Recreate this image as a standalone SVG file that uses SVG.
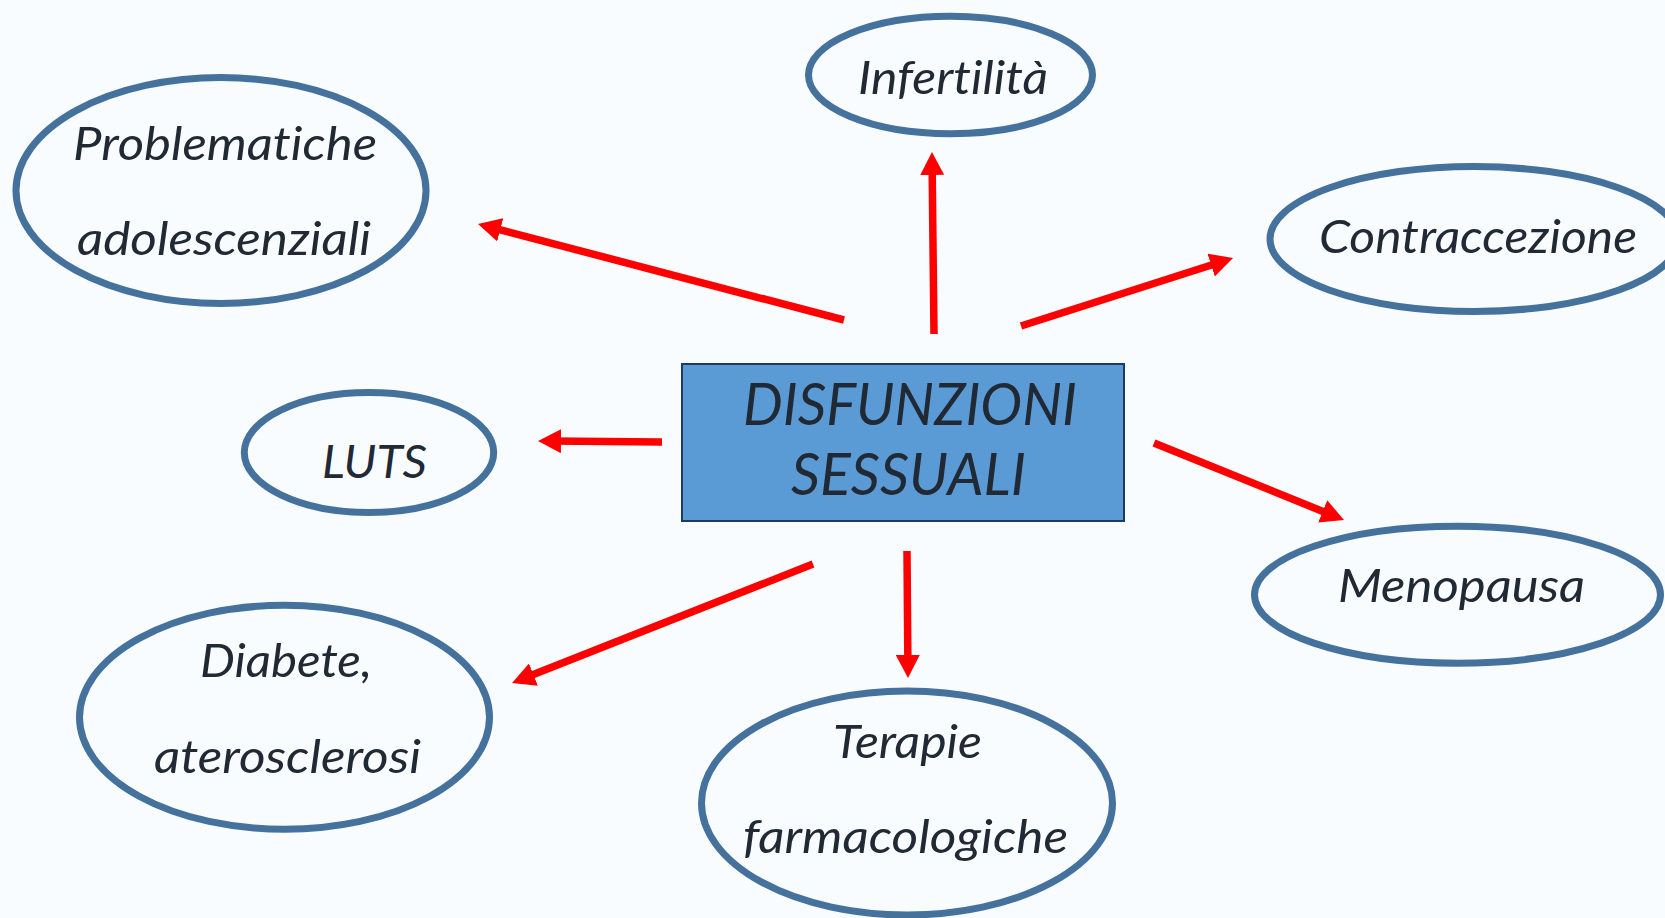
<svg xmlns="http://www.w3.org/2000/svg" width="1665" height="918" viewBox="0 0 1665 918">
  <defs>
    <style>
      .bg { fill: #F9FCFE; }
      .node ellipse { fill: #F9FCFE; stroke: #44729D; stroke-width: 7; }
      .center rect { fill: #5B9BD5; stroke: #1F3864; stroke-width: 2; }
      text { font-family: Lato, "Open Sans", "Liberation Sans", sans-serif; font-style: italic; fill: #212934; font-size: 47px; font-variant-ligatures: none; }
      .big { font-size: 58px; }
      .conn line { stroke: #FF0000; stroke-width: 7.5; fill: none; marker-end: url(#arr); }
    </style>
    <marker id="arr" markerUnits="userSpaceOnUse" viewBox="0 0 23 24" refX="11" refY="12" markerWidth="23" markerHeight="24" orient="auto">
      <path d="M0,0 L23,12 L0,24 z" fill="#FF0000"/>
    </marker>
  </defs>
  <rect class="bg" x="0" y="0" width="1665" height="918"/>

  <g id="connectors" class="conn">
    <line x1="844" y1="320" x2="489.6" y2="227"/>
    <line x1="934" y1="334" x2="932.1" y2="164"/>
    <line x1="1021" y1="326" x2="1221.6" y2="261.7"/>
    <line x1="662" y1="442" x2="550" y2="441.1"/>
    <line x1="1154" y1="443" x2="1332.9" y2="515.5"/>
    <line x1="813" y1="564" x2="523.2" y2="678.6"/>
    <line x1="907" y1="551" x2="907.9" y2="666"/>
  </g>

  <g id="node-center" class="center">
    <rect x="682" y="364" width="442" height="157"/>
    <text class="big" x="743" y="425" textLength="334" lengthAdjust="spacingAndGlyphs">DISFUNZIONI</text>
    <text class="big" x="791" y="495" textLength="235" lengthAdjust="spacingAndGlyphs">SESSUALI</text>
  </g>

  <g id="node-problematiche" class="node">
    <ellipse cx="221" cy="190.5" rx="205" ry="113"/>
    <text x="73" y="160" textLength="304" lengthAdjust="spacingAndGlyphs">Problematiche</text>
    <text x="77" y="255" textLength="294" lengthAdjust="spacingAndGlyphs">adolescenziali</text>
  </g>

  <g id="node-infertilita" class="node">
    <ellipse cx="950.5" cy="75" rx="142" ry="58.7"/>
    <text x="858" y="94" textLength="190" lengthAdjust="spacingAndGlyphs">Infertilità</text>
  </g>

  <g id="node-contraccezione" class="node">
    <ellipse cx="1474" cy="239" rx="204" ry="72.5"/>
    <text x="1319" y="253" textLength="318" lengthAdjust="spacingAndGlyphs">Contraccezione</text>
  </g>

  <g id="node-luts" class="node">
    <ellipse cx="369" cy="452.5" rx="124.7" ry="60"/>
    <text x="322" y="478" textLength="105" lengthAdjust="spacingAndGlyphs">LUTS</text>
  </g>

  <g id="node-menopausa" class="node">
    <ellipse cx="1457.5" cy="594.7" rx="203" ry="68.5"/>
    <text x="1338" y="602" textLength="247" lengthAdjust="spacingAndGlyphs">Menopausa</text>
  </g>

  <g id="node-diabete" class="node">
    <ellipse cx="284.5" cy="717.3" rx="205" ry="112"/>
    <text x="200" y="677" textLength="172" lengthAdjust="spacingAndGlyphs">Diabete,</text>
    <text x="154" y="773" textLength="267" lengthAdjust="spacingAndGlyphs">aterosclerosi</text>
  </g>

  <g id="node-terapie" class="node">
    <ellipse cx="907" cy="803" rx="205.5" ry="112"/>
    <text x="833" y="758" textLength="149" lengthAdjust="spacingAndGlyphs">Terapie</text>
    <text x="743" y="853" textLength="325" lengthAdjust="spacingAndGlyphs">farmacologiche</text>
  </g>
</svg>
